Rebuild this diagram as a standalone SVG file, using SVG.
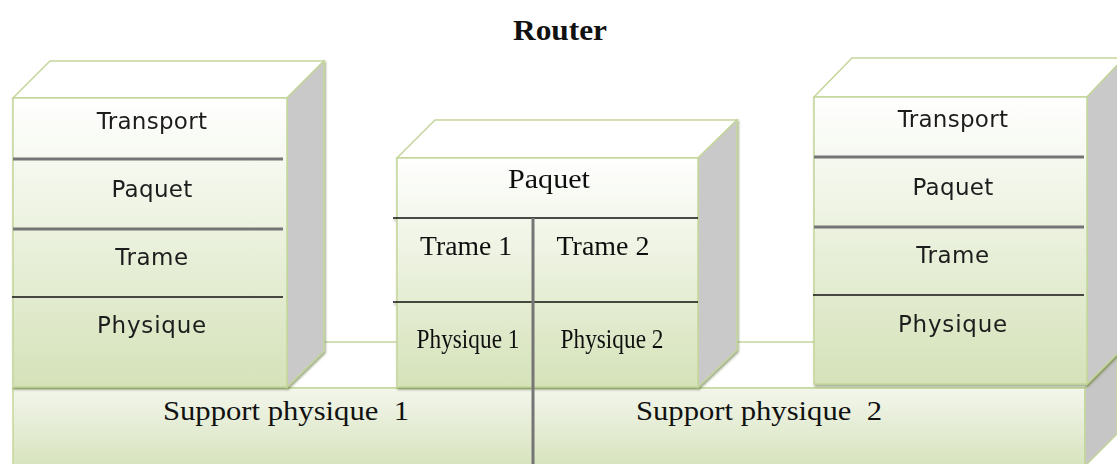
<svg xmlns="http://www.w3.org/2000/svg" width="1117" height="464" viewBox="0 0 1117 464">
  <defs>
    <linearGradient id="faceFill" x1="0" y1="0" x2="0" y2="1">
      <stop offset="0" stop-color="#ffffff"/>
      <stop offset="1" stop-color="#d5e2b9"/>
    </linearGradient>
    <linearGradient id="slabFill" x1="0" y1="0" x2="0" y2="1">
      <stop offset="0" stop-color="#f3f6ec"/>
      <stop offset="1" stop-color="#d7e3bd"/>
    </linearGradient>
    <filter id="shade" x="-5%" y="-5%" width="115%" height="115%">
      <feDropShadow dx="1" dy="2" stdDeviation="0.8" flood-color="#4f6228" flood-opacity="0.55"/>
    </filter>
  </defs>
  <style>
    .front { fill: url(#faceFill); stroke: #c3d69b; stroke-width: 1.5; }
    .slab { fill: url(#slabFill); stroke: #c3d69b; stroke-width: 1.5; }
    .top { fill: #ffffff; stroke: #c3d69b; stroke-width: 1.5; }
    .side { fill: #c9c9c9; stroke: #c3d69b; stroke-width: 1.5; }
    .sep-grey { stroke: #757575; stroke-width: 3; }
    .sep-black { stroke: #111111; stroke-width: 1.5; }
    .sans { font-family: "DejaVu Sans", Verdana, sans-serif; font-size: 23px; fill: #1e1e1e; text-anchor: middle; }
    .serif { font-family: "Liberation Serif", "Times New Roman", serif; font-size: 27px; fill: #111111; text-anchor: middle; }
    .title { font-family: "Liberation Serif", "Times New Roman", serif; font-size: 29px; font-weight: bold; fill: #111111; text-anchor: middle; }
  </style>

  <rect width="1117" height="464" fill="#ffffff"/>

  <!-- physical medium slab under the three stacks -->
  <g id="support">
    <polygon class="top" points="13,388 59,342 1131,342 1085,388"/>
    <rect class="slab" x="13" y="388" width="1072" height="78"/>
    <polygon points="1085,388 1117,356 1117,434 1085,466" fill="#c6c6c6" stroke="#c3d69b" stroke-width="1.5"/>
    <text class="serif" x="286" y="420" xml:space="preserve" textLength="246" lengthAdjust="spacingAndGlyphs">Support physique  1</text>
    <text class="serif" x="759" y="420" xml:space="preserve" textLength="246" lengthAdjust="spacingAndGlyphs">Support physique  2</text>
  </g>

  <!-- left host stack -->
  <g id="host-left" filter="url(#shade)">
    <polygon class="top" points="13,98 50,61 324,61 287,98"/>
    <polygon class="side" points="287,98 324,61 324,351 287,387"/>
    <rect class="front" x="13" y="98" width="274" height="289"/>
    <line class="sep-grey" x1="13" y1="159" x2="283" y2="159"/>
    <line class="sep-grey" x1="13" y1="229" x2="283" y2="229"/>
    <line class="sep-black" x1="12" y1="297" x2="283" y2="297"/>
    <text class="sans" x="152" y="129" letter-spacing="0.3">Transport</text>
    <text class="sans" x="152" y="197" letter-spacing="0.3">Paquet</text>
    <text class="sans" x="152" y="265" letter-spacing="0.5">Trame</text>
    <text class="sans" x="152" y="333" letter-spacing="0.8">Physique</text>
  </g>

  <!-- router stack -->
  <g id="router" filter="url(#shade)">
    <polygon class="top" points="397,158 435,120 737,120 698,158"/>
    <polygon class="side" points="698,158 737,120 737,350 698,387"/>
    <rect class="front" x="397" y="158" width="301" height="229"/>
    <line class="sep-black" x1="393" y1="218" x2="698" y2="218"/>
    <line class="sep-black" x1="393" y1="302" x2="698" y2="302"/>
    <text class="serif" x="549" y="188" textLength="82" lengthAdjust="spacingAndGlyphs">Paquet</text>
    <text class="serif" x="466" y="255" textLength="92" lengthAdjust="spacingAndGlyphs">Trame 1</text>
    <text class="serif" x="603" y="255" textLength="93" lengthAdjust="spacingAndGlyphs">Trame 2</text>
    <text class="serif" x="468" y="348" font-size="26" textLength="103" lengthAdjust="spacingAndGlyphs">Physique 1</text>
    <text class="serif" x="612" y="348" font-size="26" textLength="103" lengthAdjust="spacingAndGlyphs">Physique 2</text>
  </g>
  <line id="router-split" class="sep-grey" x1="533" y1="218" x2="533" y2="464" stroke="#5f5f5f"/>

  <!-- right host stack -->
  <g id="host-right" filter="url(#shade)">
    <polygon class="top" points="814,97 852,58 1124,58 1087,97"/>
    <polygon class="side" points="1087,97 1124,58 1124,347 1087,384"/>
    <rect class="front" x="814" y="97" width="273" height="287"/>
    <line class="sep-grey" x1="814" y1="157" x2="1084" y2="157"/>
    <line class="sep-grey" x1="814" y1="227" x2="1084" y2="227"/>
    <line class="sep-black" x1="813" y1="295" x2="1084" y2="295"/>
    <text class="sans" x="953" y="127" letter-spacing="0.3">Transport</text>
    <text class="sans" x="953" y="195" letter-spacing="0.3">Paquet</text>
    <text class="sans" x="953" y="263" letter-spacing="0.5">Trame</text>
    <text class="sans" x="953" y="332" letter-spacing="0.8">Physique</text>
  </g>

  <g id="title">
    <text class="title" x="560" y="40" textLength="94" lengthAdjust="spacingAndGlyphs">Router</text>
  </g>
</svg>
